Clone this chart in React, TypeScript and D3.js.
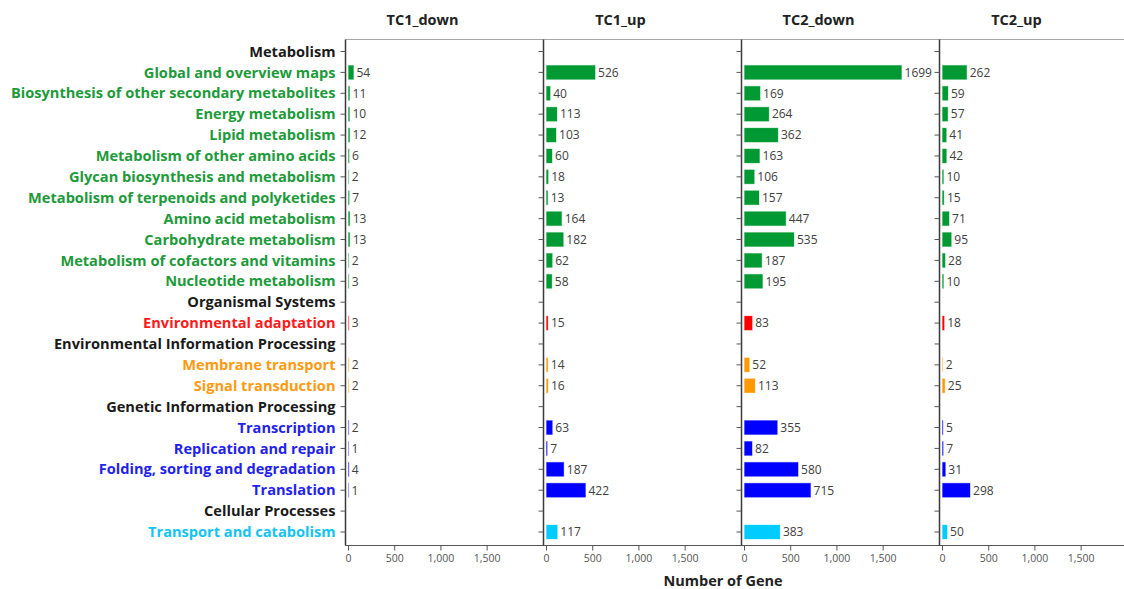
import React from "react";
import * as d3 from "d3";

const categories: string[] = [
  "Metabolism",
  "Global and overview maps",
  "Biosynthesis of other secondary metabolites",
  "Energy metabolism",
  "Lipid metabolism",
  "Metabolism of other amino acids",
  "Glycan biosynthesis and metabolism",
  "Metabolism of terpenoids and polyketides",
  "Amino acid metabolism",
  "Carbohydrate metabolism",
  "Metabolism of cofactors and vitamins",
  "Nucleotide metabolism",
  "Organismal Systems",
  "Environmental adaptation",
  "Environmental Information Processing",
  "Membrane transport",
  "Signal transduction",
  "Genetic Information Processing",
  "Transcription",
  "Replication and repair",
  "Folding, sorting and degradation",
  "Translation",
  "Cellular Processes",
  "Transport and catabolism",
];

// group of each category: "head" rows are class headers
const groups: string[] = [
  "head", "met", "met", "met", "met", "met", "met", "met", "met", "met", "met", "met",
  "head", "org",
  "head", "env", "env",
  "head", "gen", "gen", "gen", "gen",
  "head", "cel",
];

const panels: string[] = ["TC1_down", "TC1_up", "TC2_down", "TC2_up"];

const tc1Down: (number | null)[] = [null, 54, 11, 10, 12, 6, 2, 7, 13, 13, 2, 3, null, 3, null, 2, 2, null, 2, 1, 4, 1, null, null];
const tc1Up: (number | null)[] = [null, 526, 40, 113, 103, 60, 18, 13, 164, 182, 62, 58, null, 15, null, 14, 16, null, 63, 7, 187, 422, null, 117];
const tc2Down: (number | null)[] = [null, 1699, 169, 264, 362, 163, 106, 157, 447, 535, 187, 195, null, 83, null, 52, 113, null, 355, 82, 580, 715, null, 383];
const tc2Up: (number | null)[] = [null, 262, 59, 57, 41, 42, 10, 15, 71, 95, 28, 10, null, 18, null, 2, 25, null, 5, 7, 31, 298, null, 50];

const seriesValues = [tc1Down, tc1Up, tc2Down, tc2Up];
const xTicks: number[] = [0, 500, 1000, 1500];
const xMax = 2110;
const axisTitle = "Number of Gene";

const groupColor: Record<string, string> = {
  head: "#1a1a1a",
  met: "#009933",
  org: "#ff0000",
  env: "#ff9900",
  gen: "#0000ff",
  cel: "#00ccff",
};
const labelColor: Record<string, string> = {
  head: "#1a1a1a",
  met: "#1d9a3a",
  org: "#ff1a1a",
  env: "#ff9a10",
  gen: "#2222ee",
  cel: "#12c3f5",
};

const W = 1124;
const H = 589;
const panelLeft0 = 345.5;
const panelStep = 198;
const top = 39.5;
const bottom = 545.5;
const font = "'Open Sans', 'Noto Sans', sans-serif";

export default function App() {
  const y = d3.scalePoint<string>().domain(categories).range([51.5, 532]);
  const fmt = d3.format(",");

  return (
    <svg
      width={W}
      height={H}
      style={{ position: "absolute", left: 0, top: 0, background: "#fff" }}
      fontFamily={font}
    >
      <line x1={panelLeft0} x2={W} y1={top} y2={top} stroke="#a6a6a6" strokeWidth={1} />
      <line x1={panelLeft0} x2={W} y1={bottom} y2={bottom} stroke="#555" strokeWidth={1} />

      {categories.map((c, i) => (
        <text
          key={c}
          x={panelLeft0 - 10}
          y={y(c)!}
          dy="0.35em"
          textAnchor="end"
          fontSize={14.6}
          fontWeight="bold"
          fill={labelColor[groups[i]]}
        >
          {c}
        </text>
      ))}

      {panels.map((p, pi) => {
        const left = panelLeft0 + pi * panelStep;
        const x = d3.scaleLinear().domain([0, xMax]).range([left + 3, left + panelStep]);
        const vals = seriesValues[pi];
        return (
          <g key={p}>
            <text x={left + 77} y={25} textAnchor="middle" fontSize={14.5} fontWeight="bold" fill="#222">
              {p}
            </text>
            <line x1={left} x2={left} y1={top} y2={bottom} stroke="#3a3a3a" strokeWidth={1.5} />
            {categories.map((c) => (
              <line key={c} x1={left - 5} x2={left} y1={y(c)!} y2={y(c)!} stroke="#555" strokeWidth={1} />
            ))}
            {xTicks.map((t) => (
              <g key={t}>
                <line x1={x(t)} x2={x(t)} y1={bottom} y2={bottom + 5} stroke="#555" strokeWidth={1} />
                <text x={x(t)} y={558} dy="0.35em" textAnchor="middle" fontSize={10.5} fill="#555">
                  {fmt(t)}
                </text>
              </g>
            ))}
            {categories.map((c, i) => {
              const v = vals[i];
              if (v === null || v === undefined) return null;
              const col = groupColor[groups[i]];
              const w = x(v) - x(0);
              const cy = y(c)!;
              return (
                <g key={c}>
                  <rect
                    x={x(0)}
                    y={cy - 7}
                    width={Math.max(w, 0.01)}
                    height={14}
                    fill={col}
                    stroke={col}
                    strokeOpacity={0.3}
                    strokeWidth={1}
                  />
                  <text x={x(0) + w + 3} y={cy} dy="0.36em" fontSize={12} fill="#404040">
                    {v}
                  </text>
                </g>
              );
            })}
          </g>
        );
      })}

      <text x={723} y={586} textAnchor="middle" fontSize={14.5} fontWeight="bold" fill="#222">
        {axisTitle}
      </text>
    </svg>
  );
}
